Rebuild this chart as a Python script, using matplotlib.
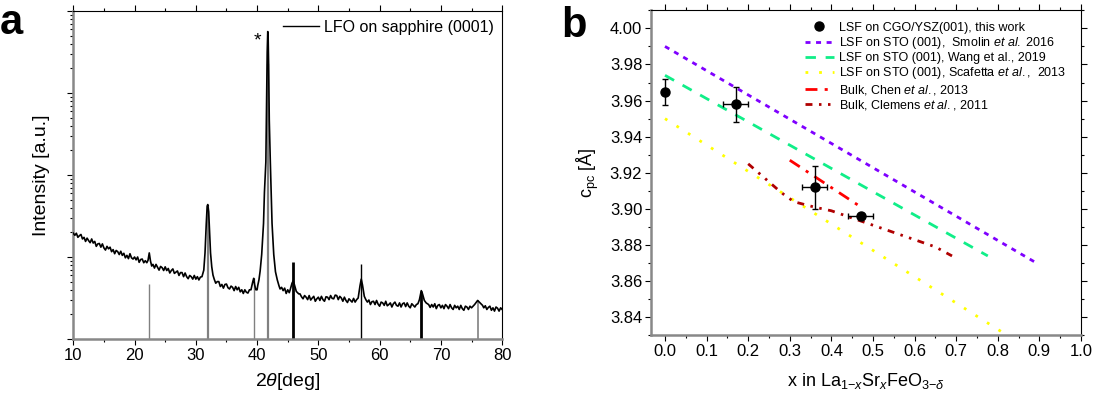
import numpy as np
import matplotlib
matplotlib.use("Agg")
import matplotlib.pyplot as plt
from matplotlib.ticker import MultipleLocator, LogLocator, NullFormatter

plt.rcParams['font.family'] = ['Liberation Sans', 'DejaVu Sans']
plt.rcParams['mathtext.fontset'] = 'custom'
plt.rcParams['mathtext.rm'] = 'Liberation Sans'
plt.rcParams['mathtext.it'] = 'Liberation Sans:italic'
plt.rcParams['lines.scale_dashes'] = False

# ---- panel a: XRD scan, log10 of intensity ----
two_theta = [
    10.0, 10.25, 10.5, 10.75, 11.0, 11.25, 11.5, 11.75, 12.0, 12.25, 12.5, 12.75,
    13.0, 13.25, 13.5, 13.75, 14.0, 14.25, 14.5, 14.75, 15.0, 15.25, 15.5, 15.75,
    16.0, 16.25, 16.5, 16.75, 17.0, 17.25, 17.5, 17.75, 18.0, 18.25, 18.5, 18.75,
    19.0, 19.25, 19.5, 19.75, 20.0, 20.25, 20.5, 20.75, 21.0, 21.25, 21.5, 21.75, 22.0,
    22.2, 22.4, 22.6,
    22.8, 23.0, 23.25, 23.5, 23.75, 24.0, 24.25, 24.5, 24.75, 25.0, 25.25, 25.5,
    25.75, 26.0, 26.25, 26.5, 26.75, 27.0, 27.25, 27.5, 27.75, 28.0, 28.25, 28.5,
    28.75, 29.0, 29.25, 29.5, 29.75, 30.0, 30.25, 30.5, 30.75, 31.0,
    31.3, 31.5, 31.7, 31.85, 31.95, 32.1, 32.25, 32.4, 32.6, 32.8,
    33.0, 33.25, 33.5, 33.75, 34.0, 34.25, 34.5, 34.75, 35.0, 35.25, 35.5, 35.75,
    36.0, 36.25, 36.5, 36.75, 37.0, 37.25, 37.5, 37.75, 38.0, 38.25, 38.5, 38.75, 39.0,
    39.3, 39.45, 39.6, 39.8,
    40.0, 40.1, 40.3, 40.5, 40.75, 41.05, 41.2, 41.43, 41.55, 41.65, 41.74, 41.8,
    41.88, 41.99, 42.16, 42.44, 42.72, 43.0, 43.3, 43.57,
    43.75, 44.0, 44.25, 44.5, 44.75, 45.0, 45.25,
    45.4, 45.7, 45.9, 46.1, 46.4, 46.8,
    47.0, 47.25, 47.5, 47.75, 48.0, 48.25, 48.5, 48.75, 49.0, 49.25, 49.5, 49.75,
    50.0, 50.25, 50.5, 50.75, 51.0, 51.25, 51.5, 51.75, 52.0, 52.25, 52.5, 52.75,
    53.0, 53.25, 53.5, 53.75, 54.0, 54.25, 54.5, 54.75, 55.0, 55.25, 55.5, 55.75,
    56.0, 56.25,
    56.5, 56.8, 57.0, 57.2, 57.5, 57.75,
    58.0, 58.25, 58.5, 58.75, 59.0, 59.25, 59.5, 59.75, 60.0, 60.25, 60.5, 60.75,
    61.0, 61.25, 61.5, 61.75, 62.0, 62.25, 62.5, 62.75, 63.0, 63.25, 63.5, 63.75,
    64.0, 64.25, 64.5, 64.75, 65.0, 65.25, 65.5, 65.75, 66.0, 66.25,
    66.5, 66.8, 67.0, 67.3, 67.6,
    68.0, 68.25, 68.5, 68.75, 69.0, 69.25, 69.5, 69.75, 70.0, 70.25, 70.5, 70.75,
    71.0, 71.25, 71.5, 71.75, 72.0, 72.25, 72.5, 72.75, 73.0, 73.25, 73.5, 73.75,
    74.0, 74.25, 74.5, 74.75, 75.0, 75.25,
    75.5, 76.0, 76.4, 76.8,
    77.0, 77.25, 77.5, 77.75, 78.0, 78.25, 78.5, 78.75, 79.0, 79.25, 79.5, 79.75, 80.0,
]
log_intensity = [
    1.29, 1.265, 1.29, 1.24, 1.26, 1.275, 1.22, 1.24, 1.19, 1.23, 1.20, 1.175,
    1.22, 1.17, 1.19, 1.13, 1.16, 1.165, 1.12, 1.16, 1.11, 1.085, 1.13, 1.10,
    1.12, 1.065, 1.09, 1.04, 1.08, 1.065, 1.03, 1.07, 1.02, 1.045, 0.99, 1.02,
    0.98, 1.04, 0.99, 0.975, 1.00, 0.965, 1.00, 0.935, 0.97, 0.975, 0.93, 0.955, 0.93,
    0.96, 1.05, 0.95,
    0.89, 0.91, 0.865, 0.91, 0.875, 0.84, 0.885, 0.87, 0.835, 0.88, 0.835, 0.86,
    0.805, 0.835, 0.855, 0.80, 0.815, 0.83, 0.775, 0.81, 0.81, 0.76, 0.805, 0.76,
    0.735, 0.775, 0.76, 0.73, 0.775, 0.73, 0.76, 0.72, 0.755, 0.76,
    0.84, 1.05, 1.40, 1.62, 1.64, 1.55, 1.30, 1.05, 0.88, 0.78,
    0.73, 0.68, 0.70, 0.70, 0.64, 0.665, 0.62, 0.665, 0.67, 0.625, 0.61, 0.645,
    0.63, 0.59, 0.64, 0.60, 0.63, 0.575, 0.60, 0.555, 0.60, 0.57, 0.56, 0.60, 0.60,
    0.70, 0.74, 0.66, 0.60,
    0.60, 0.65, 0.72, 0.83, 1.03, 1.41, 1.79, 2.16, 2.90, 3.50, 3.75, 3.70,
    3.36, 2.67, 2.16, 1.41, 1.03, 0.82, 0.72, 0.65,
    0.61, 0.63, 0.59, 0.62, 0.555, 0.60, 0.565,
    0.60, 0.68, 0.71, 0.66, 0.58, 0.55,
    0.55, 0.515, 0.49, 0.53, 0.51, 0.48, 0.53, 0.475, 0.50, 0.52, 0.46, 0.49,
    0.51, 0.47, 0.52, 0.48, 0.46, 0.515, 0.51, 0.48, 0.53, 0.495, 0.49, 0.535,
    0.53, 0.48, 0.52, 0.50, 0.46, 0.51, 0.47, 0.445, 0.49, 0.47, 0.45, 0.495,
    0.45, 0.48,
    0.50, 0.65, 0.73, 0.66, 0.52, 0.48,
    0.45, 0.475, 0.42, 0.455, 0.46, 0.42, 0.47, 0.425, 0.40, 0.45, 0.44, 0.41,
    0.46, 0.405, 0.42, 0.44, 0.39, 0.43, 0.45, 0.41, 0.40, 0.44, 0.39, 0.43,
    0.44, 0.395, 0.44, 0.40, 0.38, 0.43, 0.41, 0.39, 0.42, 0.43,
    0.48, 0.59, 0.55, 0.47, 0.44,
    0.42, 0.385, 0.42, 0.39, 0.43, 0.37, 0.41, 0.42, 0.38, 0.41, 0.37, 0.42,
    0.40, 0.37, 0.42, 0.38, 0.36, 0.41, 0.38, 0.40, 0.36, 0.41, 0.37, 0.35,
    0.40, 0.39, 0.36, 0.40, 0.38, 0.40,
    0.42, 0.47, 0.44, 0.41,
    0.38, 0.405, 0.36, 0.385, 0.40, 0.35, 0.38, 0.34, 0.39, 0.375, 0.34, 0.38, 0.36,
]

# reference stick pattern
stick_pos = [22.4, 31.95, 39.45, 41.75, 45.85, 57.0, 66.8, 76.0]
stick_log = [0.67, 1.64, 0.74, 3.36, 0.94, 0.92, 0.59, 0.47]
stick_color = ['#808080', '#808080', '#808080', '#808080', 'black', 'black', 'black', '#808080']
stick_width = [1.0, 1.6, 1.0, 1.6, 2.0, 1.0, 2.0, 1.2]

# ---- panel b: lattice parameter vs Sr content ----
this_x = [0.0, 0.17, 0.36, 0.47]
this_c = [3.965, 3.958, 3.912, 3.896]
this_xerr = [0.0, 0.03, 0.03, 0.03]
this_cerr = [0.0072, 0.0097, 0.012, 0.0]

smolin_x = [0.0, 0.89]
smolin_c = [3.990, 3.8705]
wang_x = [0.0, 0.776]
wang_c = [3.974, 3.874]
scafetta_x = [0.0, 0.84]
scafetta_c = [3.950, 3.8275]
chen_x = [0.30, 0.465]
chen_c = [3.927, 3.902]
clemens_x = [0.20, 0.25, 0.28, 0.31, 0.36, 0.40, 0.45, 0.50, 0.55, 0.60, 0.65, 0.69]
clemens_c = [3.925, 3.915, 3.909, 3.904, 3.901, 3.899, 3.895, 3.891, 3.887, 3.883, 3.879, 3.874]

fig = plt.figure(figsize=(10.94, 3.96), dpi=100)
ax1 = fig.add_axes([0.067, 0.144, 0.392, 0.828])
ax2 = fig.add_axes([0.5953, 0.153, 0.3928, 0.821])

def style_axes(ax):
    for s in ['left', 'bottom']:
        ax.spines[s].set_color('#888888')
        ax.spines[s].set_linewidth(1.8)
    for s in ['top', 'right']:
        ax.spines[s].set_color('black')
        ax.spines[s].set_linewidth(0.8)
    ax.tick_params(which='major', direction='out', length=4.5, width=0.8, labelsize=12, pad=2)
    ax.tick_params(which='minor', direction='out', length=2.5, width=0.8)

# panel a
intensity = 10 ** np.array(log_intensity)
for p, h, c, w in zip(stick_pos, stick_log, stick_color, stick_width):
    ax1.vlines(p, 1, 10 ** h, color=c, lw=w, zorder=2)
ax1.plot(two_theta, intensity, color='black', lw=1.2, zorder=3, label='LFO on sapphire (0001)')
ax1.set_yscale('log')
ax1.set_xlim(10, 80)
ax1.set_ylim(1, 1e4)
ax1.xaxis.set_major_locator(MultipleLocator(10))
ax1.xaxis.set_minor_locator(MultipleLocator(5))
ax1.yaxis.set_major_locator(LogLocator(base=10, numticks=10))
ax1.yaxis.set_minor_locator(LogLocator(base=10, subs=np.arange(2, 10), numticks=20))
ax1.yaxis.set_major_formatter(NullFormatter())
ax1.yaxis.set_minor_formatter(NullFormatter())
style_axes(ax1)
ax1.tick_params(axis='x', which='both', top=True)
ax1.text(40.08, 10 ** 3.63, '*', fontsize=14, ha='center', va='center')
ax1.set_xlabel(r'2$\it{\theta}$[deg]', fontsize=14, labelpad=6)
ax1.set_ylabel('Intensity [a.u.]', fontsize=14, labelpad=10)
leg1 = ax1.legend(loc='center left', bbox_to_anchor=(0.488, 0.95), frameon=False, fontsize=11.5,
                  handlelength=2.25, handletextpad=0.35, borderpad=0, borderaxespad=0)
leg1.get_lines()[0].set_linewidth(1.0)

# panel b
ax2.errorbar(this_x, this_c, xerr=this_xerr, yerr=this_cerr, fmt='none', ecolor='black',
             elinewidth=1.0, capsize=2.5, capthick=1.0, zorder=5)
ax2.plot(this_x, this_c, 'o', color='black', ms=6.5, zorder=6,
         label='LSF on CGO/YSZ(001), this work')
ax2.plot(smolin_x, smolin_c, color='#7f00ff', lw=2, ls=(0, (3.6, 4.0)),
         label=r'LSF on STO (001),  Smolin $\it{et\ al.}$ 2016')
ax2.plot(wang_x, wang_c, color='#10ee88', lw=2, ls=(0, (7.5, 7.0)),
         label='LSF on STO (001), Wang et al., 2019')
ax2.plot(scafetta_x, scafetta_c, color='#ffff00', lw=2, ls=(0, (2.0, 7.8)),
         label=r'LSF on STO (001), Scafetta $\it{et\ al.}$,  2013')
ax2.plot(chen_x, chen_c, color='#ff0000', lw=2, ls=(0, (8.6, 5.2, 2.2, 5.2)),
         label=r'Bulk, Chen $\it{et\ al.}$, 2013')
ax2.plot(clemens_x, clemens_c, color='#b00000', lw=2, ls=(0, (5.0, 4.7, 1.8, 4.7, 1.8, 4.7)),
         label=r'Bulk, Clemens $\it{et\ al.}$, 2011')
ax2.set_xlim(-0.033, 1.0)
ax2.set_ylim(3.83, 4.01)
ax2.xaxis.set_major_locator(MultipleLocator(0.1))
ax2.xaxis.set_minor_locator(MultipleLocator(0.05))
ax2.yaxis.set_major_locator(MultipleLocator(0.02))
ax2.yaxis.set_minor_locator(MultipleLocator(0.01))
ax2.xaxis.set_major_formatter(plt.FormatStrFormatter('%.1f'))
ax2.yaxis.set_major_formatter(plt.FormatStrFormatter('%.2f'))
style_axes(ax2)
ax2.tick_params(axis='x', which='both', top=True)
ax2.tick_params(axis='y', which='both', right=True)
ax2.set_xlabel(r'x in La$_{1\mathrm{-}x}$Sr$_{x}$FeO$_{3\mathrm{-}\delta}$', fontsize=13, labelpad=8)
ax2.set_ylabel(r'c$_{\mathrm{pc}}$ [Å]', fontsize=13, labelpad=6)
ax2.legend(loc='upper left', bbox_to_anchor=(0.358, 0.965), frameon=False, fontsize=9,
           handlelength=2.3, handletextpad=0.4, labelspacing=0.1, borderpad=0, borderaxespad=0)

fig.text(0.0, 0.914, 'a', fontsize=30, fontweight='bold', va='baseline', ha='left')
fig.text(0.513, 0.907, 'b', fontsize=30, fontweight='bold', va='baseline', ha='left')

fig.savefig('out.png', dpi=100)
